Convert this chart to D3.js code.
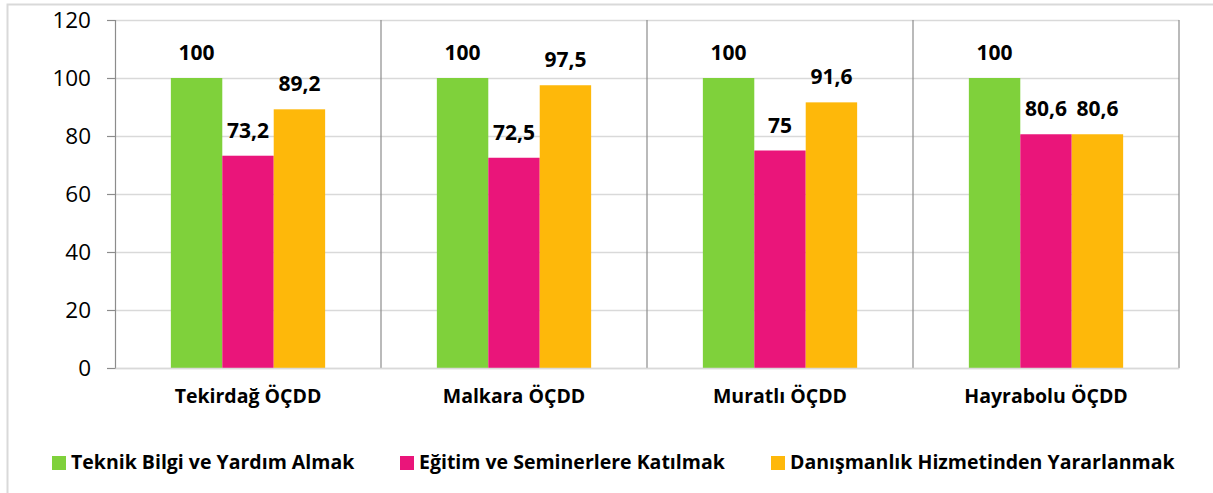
<!DOCTYPE html>
<html>
<head>
<meta charset="utf-8">
<script src="https://cdn.jsdelivr.net/npm/d3@7"></script>
<style>
body { margin: 0; background: #fff; }
text { font-family: "Open Sans", Lato, sans-serif; }
</style>
</head>
<body>
<svg id="chart"></svg>
<script>
// categories and series
var categories = ["Tekirdağ ÖÇDD", "Malkara ÖÇDD", "Muratlı ÖÇDD", "Hayrabolu ÖÇDD"];
var seriesNames = ["Teknik Bilgi ve Yardım Almak", "Eğitim ve Seminerlere Katılmak", "Danışmanlık Hizmetinden Yararlanmak"];
var teknik = [100, 100, 100, 100];
var egitim = [73.2, 72.5, 75, 80.6];
var danisma = [89.2, 97.5, 91.6, 80.6];
var yTicks = [0, 20, 40, 60, 80, 100, 120];
var colors = ["#7fd13b", "#ea157a", "#feb80a"];

var values = [teknik, egitim, danisma];

var screen = {width:1213, height:493};
var margins = {top:20, left:115, right:34, bottom:125};
var graph = {
    width: screen.width - margins.left - margins.right,
    height: screen.height - margins.top - margins.bottom
};

var svg = d3.select("#chart")
    .attr("width", screen.width)
    .attr("height", screen.height);

// outer chart border
svg.append("rect")
    .attr("x", 7.5).attr("y", 4.5)
    .attr("width", 1220).attr("height", 520)
    .attr("fill", "none")
    .attr("stroke", "#d9d9d9")
    .attr("stroke-width", 2);

var xScale = d3.scaleBand()
    .domain(categories)
    .range([0, graph.width]);

var bw = xScale.bandwidth();
var xInner = d3.scaleBand()
    .domain(d3.range(seriesNames.length))
    .range([bw * 0.21, bw * 0.79]);

var yScale = d3.scaleLinear()
    .domain([0, 120])
    .range([graph.height, 0]);

var g = svg.append("g")
    .attr("transform", "translate(" + margins.left + "," + margins.top + ")");

// horizontal gridlines
g.append("g")
    .selectAll("line")
    .data(yTicks)
    .enter()
    .append("line")
    .attr("x1", 0).attr("x2", graph.width)
    .attr("y1", function(d){ return Math.round(yScale(d)) + 0.5; })
    .attr("y2", function(d){ return Math.round(yScale(d)) + 0.5; })
    .attr("stroke", "#d9d9d9")
    .attr("stroke-width", 1.5);

// vertical separators between categories + right border
g.append("g")
    .selectAll("line")
    .data(categories.slice(1).concat(["end"]))
    .enter()
    .append("line")
    .attr("x1", function(d){ return d == "end" ? graph.width : xScale(d); })
    .attr("x2", function(d){ return d == "end" ? graph.width : xScale(d); })
    .attr("y1", 0).attr("y2", graph.height)
    .attr("stroke", "#8c8c8c")
    .attr("stroke-width", 1.2);

// bars
var groups = g.append("g")
    .selectAll("g")
    .data(categories)
    .enter()
    .append("g")
    .attr("transform", function(d){ return "translate(" + xScale(d) + ",0)"; });

groups.selectAll("rect")
    .data(function(d, i){ return values.map(function(s, k){ return {k:k, v:s[i]}; }); })
    .enter()
    .append("rect")
    .attr("x", function(d){ return xInner(d.k); })
    .attr("width", xInner.bandwidth())
    .attr("y", function(d){ return yScale(d.v); })
    .attr("height", function(d){ return graph.height - yScale(d.v); })
    .attr("fill", function(d){ return colors[d.k]; });

groups.selectAll("text")
    .data(function(d, i){ return values.map(function(s, k){ return {k:k, v:s[i]}; }); })
    .enter()
    .append("text")
    .attr("x", function(d){ return xInner(d.k) + xInner.bandwidth() / 2; })
    .attr("y", function(d){ return yScale(d.v) - 18; })
    .attr("text-anchor", "middle")
    .attr("font-size", 21)
    .attr("font-weight", "bold")
    .attr("fill", "#000")
    .text(function(d){ return String(d.v).replace(".", ","); });

// y axis
var yAxis = d3.axisLeft(yScale)
    .tickValues(yTicks)
    .tickSize(8)
    .tickPadding(16);

var ya = g.append("g").call(yAxis);
ya.select(".domain").attr("stroke", "#8c8c8c").attr("stroke-width", 1.2);
ya.selectAll(".tick line").attr("stroke", "#8c8c8c").attr("stroke-width", 1.2);
ya.selectAll(".tick text")
    .attr("font-size", 22.5)
    .attr("fill", "#000")
    .style("font-family", "'Open Sans', sans-serif");

// x axis
var xAxis = d3.axisBottom(xScale).tickSize(0).tickPadding(21);
var xa = g.append("g")
    .attr("transform", "translate(0," + graph.height + ")")
    .call(xAxis);
xa.select(".domain").attr("stroke", "#d9d9d9").attr("stroke-width", 1.5);
xa.selectAll(".tick text")
    .attr("font-size", 19.5)
    .attr("font-weight", "bold")
    .attr("fill", "#000")
    .style("font-family", "'Open Sans', sans-serif");

// legend
var legendX = [52, 400, 771];
var legend = svg.append("g")
    .selectAll("g")
    .data(seriesNames)
    .enter()
    .append("g")
    .attr("transform", function(d, i){ return "translate(" + legendX[i] + ",456)"; });

legend.append("rect")
    .attr("width", 14).attr("height", 14)
    .attr("fill", function(d, i){ return colors[i]; });

legend.append("text")
    .attr("x", 19).attr("y", 13)
    .attr("font-size", 19.5)
    .attr("font-weight", "bold")
    .attr("fill", "#000")
    .text(function(d){ return d; });
</script>
</body>
</html>
